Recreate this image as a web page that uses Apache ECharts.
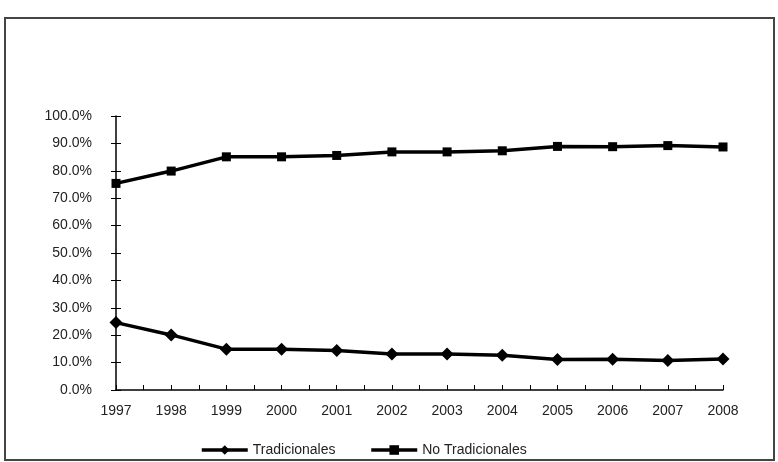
<!DOCTYPE html>
<html>
<head>
<meta charset="utf-8">
<script src="https://cdn.jsdelivr.net/npm/echarts@6/dist/echarts.min.js"></script>
<style>html,body{margin:0;padding:0;background:#fff}#c{width:778px;height:462px}</style>
</head>
<body>
<div id="c"></div>
<script>
const years = [1997, 1998, 1999, 2000, 2001, 2002, 2003, 2004, 2005, 2006, 2007, 2008];
const tradicionales = [24.6, 20.1, 14.9, 14.9, 14.4, 13.1, 13.1, 12.7, 11.1, 11.2, 10.8, 11.3];
const noTradicionales = [75.4, 79.9, 85.1, 85.1, 85.6, 86.9, 86.9, 87.3, 88.9, 88.8, 89.2, 88.7];
const seriesNames = ['Tradicionales', 'No Tradicionales'];

const chart = echarts.init(document.getElementById('c'), null, {renderer: 'canvas'});
const font = 'Liberation Sans, Arial, sans-serif';
const pairs = arr => years.map((y, i) => [y, arr[i]]);

chart.setOption({
  animation: false,
  backgroundColor: '#fff',
  graphic: [{
    type: 'rect',
    shape: {x: 5, y: 18, width: 769, height: 442},
    style: {fill: 'none', stroke: '#444', lineWidth: 2},
    z: 0
  }],
  grid: {left: 116, right: 55, top: 116, bottom: 72},
  legend: {
    left: 195, top: 438,
    itemWidth: 46, itemHeight: 12, itemGap: 34,
    lineStyle: {width: 3.5},
    textStyle: {fontFamily: font, fontSize: 14, color: '#222'},
    data: seriesNames
  },
  xAxis: {
    type: 'value', min: 1997, max: 2008, interval: 1,
    axisLine: {lineStyle: {color: '#000', width: 1.5}},
    axisTick: {inside: true, length: 5, lineStyle: {color: '#000'}},
    minorTick: {show: true, splitNumber: 2, length: 5, lineStyle: {color: '#000'}},
    splitLine: {show: false},
    axisLabel: {margin: 14, fontFamily: font, fontSize: 14, color: '#222', formatter: v => String(v)}
  },
  yAxis: [{
    type: 'value', min: 0, max: 100, interval: 10,
    axisLine: {show: true, lineStyle: {color: '#000', width: 1.5}},
    axisTick: {show: true, length: 5, lineStyle: {color: '#000'}},
    splitLine: {show: false},
    axisLabel: {margin: 24, fontFamily: font, fontSize: 14, color: '#222', formatter: v => v.toFixed(1) + '%'}
  }, {
    type: 'value', min: 0, max: 100, interval: 10, position: 'left',
    axisLine: {show: false},
    axisTick: {show: true, inside: true, length: 5, lineStyle: {color: '#000'}},
    splitLine: {show: false},
    axisLabel: {show: false}
  }],
  series: [{
    name: seriesNames[0], type: 'line', data: pairs(tradicionales),
    symbol: 'diamond', symbolSize: 13,
    lineStyle: {color: '#000', width: 3.5},
    itemStyle: {color: '#000'}
  }, {
    name: seriesNames[1], type: 'line', data: pairs(noTradicionales),
    symbol: 'rect', symbolSize: 9,
    lineStyle: {color: '#000', width: 3.5},
    itemStyle: {color: '#000'}
  }]
});
</script>
</body>
</html>
